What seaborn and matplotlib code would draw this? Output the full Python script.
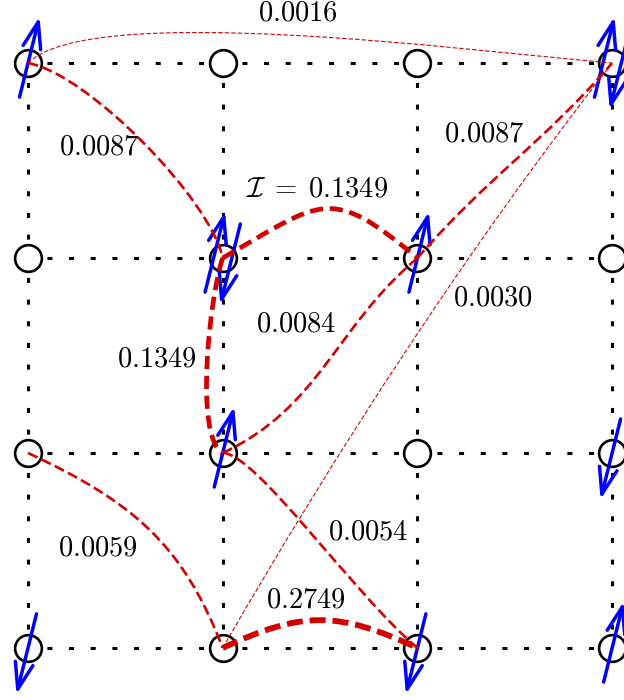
"""
Spin lattice with pairwise correlation links.

4x4 square lattice (dotted bonds), blue spin arrows on selected sites,
red dashed curves linking site pairs, line weight growing with the link value.
"""
import numpy as np
import pandas as pd
import matplotlib
matplotlib.use("Agg")
import matplotlib.pyplot as plt
from matplotlib.path import Path
from matplotlib.patches import PathPatch, FancyArrowPatch
import seaborn as sns

N_SITES = 4  # sites per side; columns left->right, rows top->bottom

# spins on sites: column, row, direction (+1 up / -1 down), side shift when two share a site
SPIN_COL = [0, 3, 3, 1, 1, 2, 1, 3, 0, 2, 3]
SPIN_ROW = [0, 0, 0, 1, 1, 1, 2, 2, 3, 3, 3]
SPIN_DIR = [1, 1, -1, 1, -1, 1, 1, -1, -1, -1, 1]
SPIN_SIDE = [0, -1, 1, -1, 1, 0, 0, 0, 0, 0, 0]

# links: start site (col, row), end site (col, row), value
LINK_FROM = [(0, 0), (0, 0), (1, 1), (2, 1), (1, 1), (1, 2), (1, 3), (1, 2), (0, 2), (1, 3)]
LINK_TO = [(3, 0), (1, 1), (2, 1), (3, 0), (1, 2), (2, 1), (3, 0), (2, 3), (1, 3), (2, 3)]
LINK_VALUE = [0.0016, 0.0087, 0.1349, 0.0087, 0.1349, 0.0084, 0.0030, 0.0054, 0.0059, 0.2749]
LINK_PREFIX = ["", "", r"\mathcal{I}\;=\;", "", "", "", "", "", "", ""]

# curve shape (out/in angle in degrees, arm length as fraction of chord) and stroke
LINK_OUT = [45, -10, 30, 49, -110, 25, 60, 0, -25, 25]
LINK_IN = [175, 102, 140, -131, 150, -140, -128, 140, 111, 155]
ARM_OUT = [0.15, 0.22, 0.59, 0.39, 0.176, 0.39, 0.33, 0.12, 0.41, 0.45]
ARM_IN = [0.25, 0.22, 0.59, 0.39, 0.176, 0.39, 0.33, 0.30, 0.41, 0.45]
LINK_LW = [0.8, 1.9, 3.4, 1.9, 3.4, 1.9, 0.8, 1.9, 1.9, 4.2]
LINK_DASH = [(3.2, 1.5), (7.5, 3.2), (9.5, 4.8), (7.5, 3.2), (9.5, 4.8),
             (7.5, 3.2), (3.2, 1.5), (7.5, 3.2), (7.5, 3.2), (11.5, 5.0)]
# label placement in lattice units (x, y with y up, bottom row = 0)
LABEL_POS = [(1.384, 3.259), (0.364, 2.570), (1.487, 2.358), (2.346, 2.640), (0.660, 1.485),
             (1.375, 1.665), (2.386, 1.798), (1.748, 0.596), (0.361, 0.516), (1.427, 0.247)]

RED = "#d40000"
BLUE = "#0000ff"
TILT = np.deg2rad(14)


def site_xy(col, row):
    return np.array([col, N_SITES - 1 - row], dtype=float)


def main():
    sns.set_theme(style="white")
    plt.rcParams["mathtext.fontset"] = "cm"
    plt.rcParams["lines.scale_dashes"] = False

    fig = plt.figure(figsize=(6.24, 7.0), dpi=100)
    ax = fig.add_axes([0, 0, 1, 1])
    ax.axis("off")

    # dotted lattice bonds
    for k in range(N_SITES):
        ax.plot([0, N_SITES - 1], [k, k], color="black", lw=2.2,
                linestyle=(2, (3.6, 12.0)), zorder=1)
        ax.plot([k, k], [0, N_SITES - 1], color="black", lw=2.2,
                linestyle=(2, (3.6, 12.0)), zorder=1)

    # sites
    sites = pd.DataFrame([(c, r) for r in range(N_SITES) for c in range(N_SITES)],
                         columns=["col", "row"])
    sites["x"] = sites["col"]
    sites["y"] = N_SITES - 1 - sites["row"]
    sns.scatterplot(data=sites, x="x", y="y", s=370, marker="o", color="white",
                    edgecolor="black", linewidth=1.9, ax=ax, zorder=2, legend=False)
    ax.set_xlim(-0.1438, 3.061)
    ax.set_ylim(-0.267, 3.3236)

    # spins
    for c, r, d, side in zip(SPIN_COL, SPIN_ROW, SPIN_DIR, SPIN_SIDE):
        u = d * np.array([np.sin(TILT), np.cos(TILT)])
        base = site_xy(c, r) + np.array([0.047 * side, 0.0])
        tail = base - 0.18 * u
        tip = base + 0.245 * u
        arrow = FancyArrowPatch(tail, tip, arrowstyle="->,head_length=19,head_width=6.5",
                                mutation_scale=1, lw=2.5, color=BLUE,
                                shrinkA=0, shrinkB=0, zorder=3)
        ax.add_patch(arrow)

    # links
    for i in range(len(LINK_VALUE)):
        p0 = site_xy(*LINK_FROM[i])
        p3 = site_xy(*LINK_TO[i])
        dist = np.hypot(*(p3 - p0))
        a_out = np.deg2rad(LINK_OUT[i])
        a_in = np.deg2rad(LINK_IN[i])
        p1 = p0 + ARM_OUT[i] * dist * np.array([np.cos(a_out), np.sin(a_out)])
        p2 = p3 + ARM_IN[i] * dist * np.array([np.cos(a_in), np.sin(a_in)])
        path = Path([p0, p1, p2, p3], [Path.MOVETO, Path.CURVE4, Path.CURVE4, Path.CURVE4])
        ax.add_patch(PathPatch(path, fill=False, edgecolor=RED, lw=LINK_LW[i],
                               linestyle=(0, LINK_DASH[i]), capstyle="butt", zorder=4))
        lx, ly = LABEL_POS[i]
        ax.text(lx, ly, f"${LINK_PREFIX[i]}{LINK_VALUE[i]:.4f}$", fontsize=20.5,
                ha="center", va="center", color="black", zorder=5)

    fig.savefig("out.png", dpi=100)
    plt.close(fig)


if __name__ == "__main__":
    main()
